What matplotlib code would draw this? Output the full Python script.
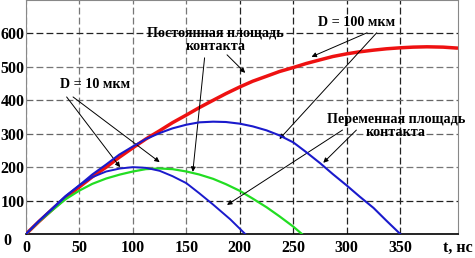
import matplotlib
matplotlib.use("Agg")
import matplotlib.pyplot as plt

# ---- data ----
t_red = [0, 12, 25, 37, 50, 62, 75, 87, 100, 112, 125, 137, 150, 162, 175, 187, 200,
         212, 225, 237, 250, 262, 275, 287, 300, 312, 325, 337, 350, 362, 375, 390, 404]
v_red = [0, 37, 75, 109, 141, 171, 200, 229, 258, 284, 309, 333, 356, 378, 400, 420, 440,
         457, 472, 486, 498, 510, 521, 531, 539, 545, 550, 554, 557, 559, 560, 559, 556]

t_blue_big = [0, 12, 25, 37, 50, 62, 75, 87, 100, 112, 125, 137, 150, 162, 175, 187, 200,
              212, 225, 237, 250, 262, 275, 287, 300, 312, 325, 337, 350]
v_blue_big = [0, 38, 76, 112, 146, 178, 208, 237, 262, 284, 302, 316, 327, 334, 336, 335, 330,
              322, 310, 295, 274, 245, 212, 179, 145, 112, 78, 40, 0]

t_blue_small = [0, 12, 25, 37, 50, 62, 75, 88, 100, 112, 125, 137, 150, 162, 175, 191, 205]
v_blue_small = [0, 39, 78, 114, 146, 170, 187, 196, 200, 198, 189, 173, 152, 122, 88, 44, 0]

t_green = [0, 12, 25, 37, 50, 62, 75, 88, 100, 112, 125, 137, 150, 162, 175, 187, 200,
           212, 225, 237, 250, 258]
v_green = [0, 37, 72, 104, 130, 150, 166, 178, 187, 194, 196, 194, 187, 178, 165, 149, 129,
           106, 80, 53, 22, 0]

x_ticks = [0, 50, 100, 150, 200, 250, 300, 350]
y_ticks = [0, 100, 200, 300, 400, 500, 600]
y_tick_labels = ["", "100", "200", "300", "400", "500", "600"]

FONT = "Liberation Serif"

fig = plt.figure(figsize=(4.75, 2.58), dpi=100)
ax = fig.add_axes([26 / 475, 1 - 234 / 258, (458 - 26) / 475, 234 / 258])
ax.set_xlim(0, 404)
ax.set_ylim(0, 700)

ax.plot(t_red, v_red, color="#ee1111", lw=2.5, zorder=3, solid_capstyle="butt")
ax.plot(t_blue_big, v_blue_big, color="#1a1acc", lw=1.5, zorder=4)
ax.plot(t_green, v_green, color="#22dd22", lw=1.6, zorder=3)
ax.plot(t_blue_small, v_blue_small, color="#1a1acc", lw=1.4, zorder=4)

ax.set_xticks(x_ticks)
ax.set_yticks(y_ticks)
ax.set_yticklabels(y_tick_labels)
ax.tick_params(length=0, pad=4)
for lab in ax.get_xticklabels() + ax.get_yticklabels():
    lab.set_fontfamily(FONT)
    lab.set_fontweight("bold")
    lab.set_fontsize(11.5)
ax.tick_params(axis="y", pad=1)

ax.grid(True, ls=(0, (5.5, 2.5)), lw=0.9, color="#777777", zorder=1)
xcols = ["#777777", "#777777", "#777777", "#777777", "#222222", "#222222", "#222222", "#222222"]
ycols = ["#777777", "#222222", "#777777", "#666666", "#666666", "#777777", "#222222"]
for gl, c in zip(ax.get_xgridlines(), xcols):
    gl.set_color(c)
for gl, c in zip(ax.get_ygridlines(), ycols):
    gl.set_color(c)

for s in ["left", "top", "right"]:
    ax.spines[s].set_color("#888888")
    ax.spines[s].set_linewidth(0.8)
ax.spines["bottom"].set_color("black")
ax.spines["bottom"].set_linewidth(1.2)

fig.text(3 / 475, 1 - 241 / 258, "0", family=FONT, weight="bold", fontsize=11.5,
         ha="left", va="center")
fig.text(443 / 475, 1 - 248 / 258, "t, нс", family=FONT, weight="bold", fontsize=11.5,
         ha="left", va="center")

tk = dict(family=FONT, weight="bold", fontsize=10.2, ha="center", va="center",
          linespacing=1.0, zorder=6)
ap = dict(arrowstyle="-|>", color="black", lw=0.7, mutation_scale=7, shrinkA=0, shrinkB=0)

# D = 100 мкм
ax.text(309, 632, "D = 100 мкм", **tk)
ax.annotate("", xy=(267, 530), xytext=(319, 602), arrowprops=ap)
ax.annotate("", xy=(237, 284), xytext=(328, 602), arrowprops=ap)

# Переменная площадь контакта
ax.text(346, 323, "Переменная площадь\nконтакта", **tk)
ax.annotate("", xy=(188, 87), xytext=(296, 311), arrowprops=ap)
ax.annotate("", xy=(278, 213), xytext=(309, 311), arrowprops=ap)

# Постоянная площадь контакта
ax.text(177, 581, "Постоянная площадь\nконтакта", **tk)
ax.annotate("", xy=(156, 186), xytext=(167, 527), arrowprops=ap)
ax.annotate("", xy=(205, 482), xytext=(188, 536), arrowprops=ap)

# D = 10 мкм
ax.text(65, 446, "D = 10 мкм", **tk)
ax.annotate("", xy=(88, 200), xytext=(38, 410), arrowprops=ap)
ax.annotate("", xy=(125, 215), xytext=(44, 410), arrowprops=ap)

fig.savefig("out.png", dpi=100)
